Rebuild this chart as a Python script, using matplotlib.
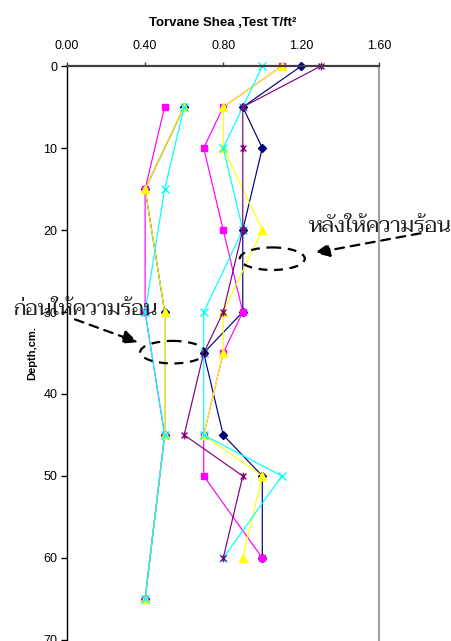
import matplotlib
matplotlib.use("Agg")
import matplotlib.pyplot as plt
from matplotlib import font_manager
from matplotlib.patches import Ellipse
from matplotlib.path import Path

# depth (cm) and torvane shear test (T/ft2), after heating
depth_after = [0, 5, 10, 20, 30, 35, 45, 50, 60]
navy_after = [1.2, 0.9, 1.0, 0.9, 0.9, 0.7, 0.8, 1.0, 1.0]
magenta_after = [1.1, 0.8, 0.7, 0.8, 0.9, 0.8, 0.7, 0.7, 1.0]
yellow_after = [1.1, 0.8, 0.8, 1.0, 0.8, 0.8, 0.7, 1.0, 0.9]
cyan_after = [1.0, 0.9, 0.8, 0.9, 0.7, 0.7, 0.7, 1.1, 0.8]
purple_after = [1.3, 0.9, 0.9, 0.9, 0.8, 0.7, 0.6, 0.9, 0.8]

# before heating
depth_before = [5, 15, 30, 45, 65]
navy_before = [0.6, 0.4, 0.5, 0.5, 0.4]
magenta_before = [0.5, 0.4, 0.4, 0.5, 0.4]
yellow_before = [0.6, 0.4, 0.5, 0.5, 0.4]
cyan_before = [0.6, 0.5, 0.4, 0.5, 0.4]

x_ticks = [0.0, 0.4, 0.8, 1.2, 1.6]
y_ticks = [0, 10, 20, 30, 40, 50, 60, 70]

title = "Torvane Shea ,Test T/ft²"
ylabel = "Depth,cm."
label_after = "หลังให้ความร้อน"
label_before = "ก่อนให้ความร้อน"

# pick a Thai capable font that is installed
names = {f.name for f in font_manager.fontManager.ttflist}
thai_font = next((n for n in ["Taviraj", "Trirong", "Sarabun", "Noto Serif Thai",
                              "Noto Sans Thai", "Athiti"] if n in names), "DejaVu Sans")

plt.rcParams["font.family"] = ["Liberation Sans", "DejaVu Sans"]

# excel style star marker (x with a vertical bar)
star = Path([(-1, -1), (1, 1), (-1, 1), (1, -1), (0, -1.3), (0, 1.3)],
            [Path.MOVETO, Path.LINETO] * 3)

fig = plt.figure(figsize=(4.52, 6.41), dpi=100)
ax = fig.add_axes([0.1482, 0.0016, 0.6914, 0.8954])

styles = [
    ("#000080", "D", 4.0, True),
    ("#FF00FF", "s", 4.5, True),
    ("#FFFF00", "^", 5.5, True),
    ("#00FFFF", "x", 5.5, False),
    ("#800080", star, 5.5, False),
]

after = [navy_after, magenta_after, yellow_after, cyan_after, purple_after]
before = [navy_before, magenta_before, yellow_before, cyan_before]

for vals, (c, m, ms, filled) in zip(after, styles):
    ax.plot(vals, depth_after, color=c, lw=0.85, marker=m, ms=ms,
            mfc=c if filled else "none", mec=c, mew=1.0, clip_on=False)
for vals, (c, m, ms, filled) in zip(before, styles):
    ax.plot(vals, depth_before, color=c, lw=0.85, marker=m, ms=ms,
            mfc=c if filled else "none", mec=c, mew=1.0, clip_on=False)

ax.set_xlim(0, 1.6)
ax.set_ylim(70, 0)
ax.xaxis.tick_top()
ax.set_xticks(x_ticks)
ax.set_xticklabels(["%.2f" % v for v in x_ticks], fontsize=9)
ax.set_yticks(y_ticks)
ax.set_yticklabels([str(v) for v in y_ticks], fontsize=9)
ax.tick_params(axis="x", direction="out", length=3, width=1, pad=7, color="#404040")
ax.tick_params(axis="y", direction="out", length=4, width=1, pad=3)

ax.spines["top"].set_color("#404040")
ax.spines["top"].set_linewidth(1.6)
ax.spines["left"].set_color("black")
ax.spines["left"].set_linewidth(1.0)
ax.spines["right"].set_color("#A0A0A0")
ax.spines["right"].set_linewidth(1.5)
ax.spines["bottom"].set_visible(False)

fig.text(0.493, 0.964, title, ha="center", va="center", fontsize=9.5, fontweight="bold")
ax.set_ylabel(ylabel, fontsize=8, fontweight="bold", labelpad=4)

# annotations: ellipses, dashed arrows and thai labels
for cx, cy in [(1.051, 23.5), (0.541, 34.9)]:
    ax.add_patch(Ellipse((cx, cy), 0.333, 2.75, fill=False, ec="black",
                         lw=1.6, ls=(0, (4, 3)), zorder=5))

arrow = dict(arrowstyle="-|>,head_length=0.9,head_width=0.4", color="black",
             lw=1.6, ls=(0, (4, 3)), shrinkA=0, shrinkB=0)
ax.annotate("", xy=(1.267, 22.8), xytext=(1.81, 20.4), arrowprops=arrow,
            annotation_clip=False, zorder=5)
ax.annotate("", xy=(0.364, 33.7), xytext=(0.041, 30.9), arrowprops=arrow,
            annotation_clip=False, zorder=5)

ax.text(1.236, 20.2, label_after, family=[thai_font, "DejaVu Sans"], fontsize=15.3,
        va="baseline", ha="left", color="#202020", clip_on=False, zorder=6)
ax.text(-0.277, 30.4, label_before, family=[thai_font, "DejaVu Sans"], fontsize=15.3,
        va="baseline", ha="left", color="#202020", clip_on=False, zorder=6)

fig.savefig("out.png", dpi=100)
